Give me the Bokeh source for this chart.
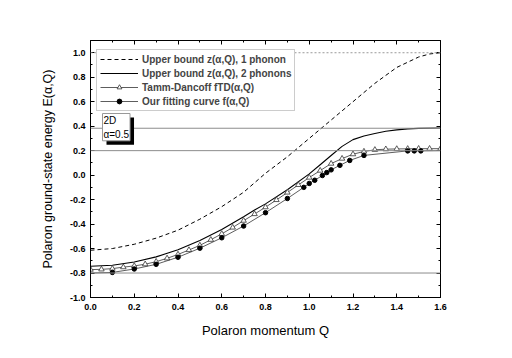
import numpy as np
from bokeh.plotting import figure
from bokeh.models import (Range1d, LinearAxis, FixedTicker, Span, Label, Legend,
                          LegendItem, CustomJSTickFormatter)
from bokeh.embed import file_html
from bokeh.resources import INLINE

# ---------------- data ----------------
q_one = [0.0, 0.1, 0.2, 0.3, 0.4, 0.5, 0.6, 0.7, 0.8, 0.9, 1.0, 1.1, 1.2, 1.3, 1.4, 1.5, 1.55, 1.6]
e_one = [-0.614, -0.600, -0.565, -0.515, -0.450, -0.360, -0.258, -0.140, 0.015, 0.150, 0.300,
         0.450, 0.600, 0.750, 0.880, 0.965, 0.990, 1.000]

q_two = [0.0, 0.1, 0.2, 0.3, 0.4, 0.5, 0.6, 0.7, 0.75, 0.8, 0.9, 1.0, 1.05, 1.1, 1.15, 1.2, 1.25,
         1.3, 1.35, 1.4, 1.45, 1.5, 1.6]
e_two = [-0.745, -0.737, -0.710, -0.668, -0.610, -0.535, -0.445, -0.340, -0.285, -0.235, -0.120,
         0.010, 0.085, 0.160, 0.235, 0.290, 0.320, 0.340, 0.358, 0.370, 0.378, 0.382, 0.385]

q_td = [0.0, 0.05, 0.1, 0.15, 0.2, 0.25, 0.3, 0.35, 0.4, 0.45, 0.5, 0.55, 0.6, 0.65, 0.7, 0.75,
        0.8, 0.85, 0.9, 0.95, 1.0, 1.05, 1.1, 1.15, 1.2, 1.25, 1.3, 1.35, 1.4, 1.45, 1.5, 1.55, 1.6]
e_td = [-0.772, -0.770, -0.764, -0.752, -0.742, -0.728, -0.707, -0.680, -0.648, -0.612, -0.574,
        -0.528, -0.480, -0.428, -0.372, -0.318, -0.262, -0.203, -0.142, -0.080, -0.020, 0.037,
        0.094, 0.135, 0.171, 0.193, 0.207, 0.212, 0.214, 0.215, 0.216, 0.216, 0.216]

q_fit = [0.1, 0.2, 0.3, 0.4, 0.5, 0.6, 0.7, 0.8, 0.9, 0.975, 1.0, 1.025, 1.06, 1.08, 1.1, 1.14,
         1.185, 1.25, 1.45, 1.48, 1.51]
e_fit = [-0.795, -0.767, -0.729, -0.671, -0.597, -0.512, -0.416, -0.307, -0.191, -0.100, -0.068,
         -0.042, -0.003, 0.021, 0.043, 0.080, 0.120, 0.161, 0.198, 0.198, 0.198]
q_fit_line = [0.0] + q_fit + [1.6]
e_fit_line = [-0.800] + e_fit + [0.200]

levels = [0.383, 0.2, -0.8]
top_level = 1.0

x_ticks = [0.0, 0.2, 0.4, 0.6, 0.8, 1.0, 1.2, 1.4, 1.6]
x_minor = [0.1, 0.3, 0.5, 0.7, 0.9, 1.1, 1.3, 1.5]
y_ticks = [-1.0, -0.8, -0.6, -0.4, -0.2, 0.0, 0.2, 0.4, 0.6, 0.8, 1.0]
y_minor = [-0.9, -0.7, -0.5, -0.3, -0.1, 0.1, 0.3, 0.5, 0.7, 0.9]

legend_labels = ["Upper bound z(\u03b1,Q), 1 phonon",
                 "Upper bound z(\u03b1,Q), 2 phonons",
                 "Tamm-Dancoff fTD(\u03b1,Q)",
                 "Our fitting curve f(\u03b1,Q)"]
box_text = "2D\n\u03b1=0.5"
x_title = "Polaron momentum Q"
y_title = "Polaron ground-state energy E(\u03b1,Q)"

FONT = "Liberation Sans"

p = figure(width=504, height=350, x_range=Range1d(0, 1.6), y_range=Range1d(-1.0, 1.1),
           output_backend="svg", toolbar_location=None,
           min_border_left=90, min_border_right=64, min_border_top=40, min_border_bottom=53)
p.background_fill_color = "white"
p.border_fill_color = "white"
p.outline_line_color = "black"
p.xgrid.visible = False
p.ygrid.visible = False

bottom_ax = p.below[0]
left_ax = p.left[0]
top_ax = LinearAxis()
right_ax = LinearAxis()
p.add_layout(top_ax, "above")
p.add_layout(right_ax, "right")

for ax in (bottom_ax, top_ax):
    ax.ticker = FixedTicker(ticks=x_ticks, minor_ticks=x_minor)
for ax in (left_ax, right_ax):
    ax.ticker = FixedTicker(ticks=y_ticks, minor_ticks=y_minor)
for ax in (bottom_ax, top_ax, left_ax, right_ax):
    ax.axis_line_color = "black"
    ax.axis_line_width = 1
    ax.major_tick_in = 4
    ax.major_tick_out = 0
    ax.minor_tick_in = 2
    ax.minor_tick_out = 0
    ax.major_tick_line_color = "black"
    ax.minor_tick_line_color = "black"
    ax.major_label_text_font = FONT
    ax.major_label_text_font_style = "bold"
    ax.major_label_text_font_size = "9px"
    ax.major_label_text_color = "black"
    ax.major_label_standoff = 6
top_ax.formatter = CustomJSTickFormatter(code="return ''")
right_ax.formatter = CustomJSTickFormatter(code="return ''")
bottom_ax.formatter = CustomJSTickFormatter(code="return tick.toFixed(1)")
left_ax.formatter = CustomJSTickFormatter(code="return tick.toFixed(1)")
left_ax.major_label_standoff = 5

bottom_ax.axis_label = x_title
bottom_ax.axis_label_text_font = FONT
bottom_ax.axis_label_text_font_style = "normal"
bottom_ax.axis_label_text_font_size = "13px"
bottom_ax.axis_label_text_color = "black"
bottom_ax.axis_label_standoff = 10

left_ax.axis_label = y_title
left_ax.axis_label_text_font = FONT
left_ax.axis_label_text_font_style = "normal"
left_ax.axis_label_text_font_size = "12.5px"
left_ax.axis_label_text_color = "black"
left_ax.axis_label_standoff = 12

# reference levels
for lv in levels:
    p.add_layout(Span(location=lv, dimension="width", line_color="#8c8c8c", line_width=1))
p.add_layout(Span(location=top_level, dimension="width", line_color="#9a9a9a",
                  line_width=1, line_dash="2 2"))

r_one = p.line(q_one, e_one, line_color="black", line_width=1, line_dash="4 3")
r_two = p.line(q_two, e_two, line_color="black", line_width=1.1)
r_td_l = p.line(q_td, e_td, line_color="#333333", line_width=0.8)
r_td_m = p.scatter(q_td, e_td, marker="triangle", size=5.5, fill_color="white",
                   line_color="#333333", line_width=0.8)
r_fit_l = p.line(q_fit_line, e_fit_line, line_color="#333333", line_width=0.8)
r_fit_m = p.scatter(q_fit, e_fit, marker="circle", size=4.5, fill_color="black",
                    line_color="black")

legend = Legend(items=[
    LegendItem(label=legend_labels[0], renderers=[r_one]),
    LegendItem(label=legend_labels[1], renderers=[r_two]),
    LegendItem(label=legend_labels[2], renderers=[r_td_l, r_td_m]),
    LegendItem(label=legend_labels[3], renderers=[r_fit_l, r_fit_m]),
], location=(6, 186))
legend.label_text_font = FONT
legend.label_text_font_style = "bold"
legend.label_text_font_size = "10px"
legend.label_height = 12
legend.glyph_height = 12
legend.glyph_width = 38
legend.spacing = 2
legend.padding = 3
legend.label_standoff = 4
legend.margin = 0
legend.border_line_color = "#999999"
legend.border_line_width = 1
legend.background_fill_color = "white"
legend.background_fill_alpha = 1
p.add_layout(legend)

# "2D, alpha=0.5" box with shadow
shadow = Label(x=16, y=180, x_units="screen", y_units="screen", text=box_text,
               text_font=FONT, text_font_size="10px", text_color="black",
               text_align="left", text_baseline="top", text_line_height=1.3,
               background_fill_color="black", padding=1)
box = Label(x=12, y=184, x_units="screen", y_units="screen", text=box_text,
            text_font=FONT, text_font_size="10px", text_color="black",
            text_align="left", text_baseline="top", text_line_height=1.3,
            background_fill_color="white", border_line_color="#999999",
            border_line_width=1, padding=1)
p.add_layout(shadow)
p.add_layout(box)

open("out.html", "w").write(file_html(p, INLINE))
